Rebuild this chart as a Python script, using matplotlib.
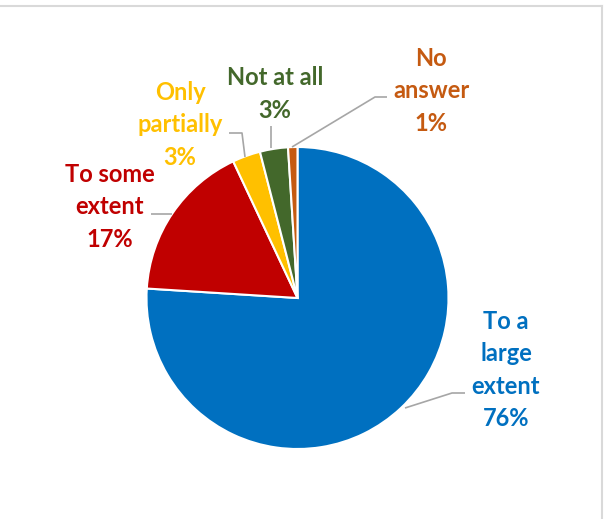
import matplotlib
matplotlib.use("Agg")
import matplotlib.pyplot as plt

labels = ["To a\nlarge\nextent", "To some\nextent", "Only\npartially", "Not at all", "No\nanswer"]
values = [76, 17, 3, 3, 1]
colors = ["#0070C0", "#C00000", "#FFC000", "#43682B", "#C55A11"]

W, H = 604, 519
fig = plt.figure(figsize=(W / 100, H / 100), dpi=100)
ax = fig.add_axes([0, 0, 1, 1])
ax.set_xlim(0, W)
ax.set_ylim(0, H)
ax.set_aspect("equal")
ax.axis("off")

def Y(y):
    return H - y

cx, cy, r = 297.5, 298, 151
ax.pie(values, colors=colors, startangle=90, counterclock=False,
       center=(cx, Y(cy)), radius=r, frame=True,
       wedgeprops=dict(edgecolor="white", linewidth=1.5))
ax.set_xlim(0, W)
ax.set_ylim(0, H)
ax.axis("off")

font = dict(family=["Lato", "DejaVu Sans"], fontweight="bold", fontsize=17,
            ha="center", va="center", linespacing=1.5)

texts = [
    (506, 370, labels[0] + f"\n{values[0]}%"),
    (110, 207, labels[1] + f"\n{values[1]}%"),
    (180, 125, labels[2] + f"\n{values[2]}%"),
    (275, 94, labels[3] + f"\n{values[3]}%"),
    (431, 91, labels[4] + f"\n{values[4]}%"),
]
for (x, y, s), c in zip(texts, colors):
    ax.text(x, Y(y), s, color=c, **font)

lc = "#A6A6A6"
leaders = [
    [(405, 408), (452, 393), (465, 393)],
    [(151, 214), (172, 214)],
    [(229, 133), (242, 133), (245, 157)],
    [(271, 126), (271, 148)],
    [(387, 97), (375, 97), (292, 147)],
]
for pts in leaders:
    xs = [p[0] for p in pts]
    ys = [Y(p[1]) for p in pts]
    ax.plot(xs, ys, color=lc, lw=1.2, solid_capstyle="butt")

ax.plot([0, 601.5], [Y(5.5), Y(5.5)], color="#D9D9D9", lw=1.5)
ax.plot([601.5, 601.5], [Y(5.5), 0], color="#D9D9D9", lw=1.5)

fig.savefig("out.png", dpi=100)
